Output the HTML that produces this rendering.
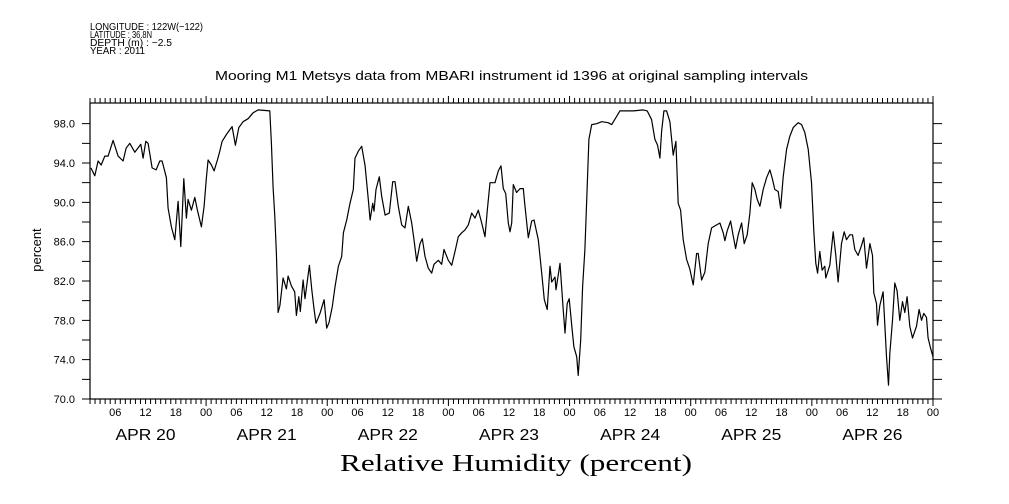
<!DOCTYPE html>
<html><head><meta charset="utf-8"><style>
html,body{margin:0;padding:0;background:#fff;}
svg{display:block;font-family:"Liberation Sans",sans-serif;}
</style></head><body>
<svg id="chart" width="1009" height="504" viewBox="0 0 1009 504">
<g font-size="10" fill="#000">
<text x="90" y="30" textLength="113" lengthAdjust="spacingAndGlyphs">LONGITUDE : 122W(−122)</text>
<text x="90" y="38" textLength="62" lengthAdjust="spacingAndGlyphs">LATITUDE : 36.8N</text>
<text x="90" y="46" textLength="82" lengthAdjust="spacingAndGlyphs">DEPTH (m) : −2.5</text>
<text x="90" y="54" textLength="55" lengthAdjust="spacingAndGlyphs">YEAR : 2011</text>
</g>
<text x="215" y="80" textLength="593" lengthAdjust="spacingAndGlyphs" font-size="13">Mooring M1 Metsys data from MBARI instrument id 1396 at original sampling intervals</text>
<text x="340" y="471" textLength="352" lengthAdjust="spacingAndGlyphs" font-size="24" font-family="Liberation Serif, serif">Relative Humidity (percent)</text>
<text transform="translate(41,250) rotate(-90)" text-anchor="middle" font-size="13">percent</text>
<g id="axes"></g>
<g id="series"></g>
</svg>
<script>
const hours = [1.17,1.96,2.61,3.21,3.94,4.59,5.58,6.57,7.56,8.16,8.89,9.88,11.07,11.52,12.06,12.51,13.31,14.1,14.83,15.29,16.14,16.48,17.13,17.8,18.46,18.99,19.58,20.1,20.44,21.09,21.76,22.28,23.07,23.6,24.06,24.4,25.05,25.58,26.24,26.71,27.17,28.02,29.15,29.8,30.48,31.33,32.32,33.31,34.3,36.61,36.93,37.27,37.6,37.92,38.26,38.61,39.25,39.9,40.24,40.89,41.56,41.88,42.36,42.67,43.21,43.6,44.46,44.93,45.39,45.78,46.57,47.37,47.9,48.36,49.01,49.54,50.2,50.87,51.19,51.86,52.51,53.17,53.5,54.16,54.83,55.49,56.14,56.48,57.01,57.27,57.66,58.32,58.79,59.45,60.3,60.97,61.43,62.08,62.75,63.41,64.06,64.73,65.19,65.72,66.38,66.83,67.37,68.02,68.69,69.15,70,70.67,71.13,71.98,72.65,73.3,73.96,74.63,75.29,75.94,76.61,77.27,77.92,78.59,79.25,79.7,80.24,81.23,81.88,82.42,82.87,83.35,83.86,84.2,84.53,84.85,85.52,86.18,86.83,87.17,87.82,88.5,88.95,89.8,90.48,90.99,91.58,92.12,92.46,93.11,93.31,94.1,94.75,95.09,95.54,95.94,96.42,96.87,97.41,97.72,98.2,98.59,99.05,99.5,99.84,100.38,101.37,102.36,103.66,104.34,105.98,108.61,110.59,111.39,112.26,112.91,113.44,113.9,114.24,114.69,115.23,115.88,116.53,117.07,117.52,118,118.51,119.19,119.84,120.5,121.17,121.49,122.16,122.81,123.47,124.14,124.79,125.78,126.44,126.77,127.23,127.9,128.42,128.89,129.41,130.08,130.59,131.19,131.72,132.18,132.71,133.17,133.7,134.36,135.03,135.68,136.22,136.67,137.33,137.8,138.32,138.99,139.64,140.3,141.29,141.96,142.61,143.27,143.94,144.4,144.79,145.13,145.58,146.04,146.57,146.77,147.56,148.22,148.75,149.21,149.88,150.4,150.87,151.52,152.06,152.51,153.17,153.84,154.3,154.83,155.49,156.02,156.28,156.81,157.01,157.47,158.12,158.79,159.19,159.45,159.98,160.44,160.89,161.43,161.96,162.42,162.87,163.41,163.94,164.73,165.25,165.72,166.18,166.71,167.03,167.5,168];
const humidity = [93.5,92.7,94.2,93.8,94.7,94.7,96.3,94.7,94.2,95.5,96,95.1,95.9,94.5,96.2,96,93.5,93.3,94.2,94.2,92.5,89.4,87.5,86.2,90.1,85.5,92.4,88.4,90.3,89.2,90.5,89.2,87.5,89.6,92.5,94.3,93.8,93.2,94.3,95.2,96.2,96.9,97.7,95.8,97.6,98.2,98.5,99.1,99.4,99.3,96,91.5,88.6,84.8,78.8,79.5,82.3,81.2,82.5,81.5,80.9,78.5,80.4,78.9,82.1,80.2,83.6,81.1,79.1,77.7,78.7,80.1,77.2,77.8,79.4,81.4,83.5,84.5,86.9,88.2,89.9,91.3,94.5,95.2,95.7,93.7,90.3,88.2,89.9,89.1,91.3,92.6,90.6,88.7,88.9,92.1,92.1,89.6,87.7,87.4,89.6,87.9,86.2,84,85.8,86.3,84.5,83.3,82.8,83.7,84.1,83.7,85.2,84.1,83.6,85,86.5,86.9,87.2,87.7,88.9,88.4,89.2,87.9,86.5,89.2,92,92,93.2,93.7,91.4,90.9,87.9,87,87.9,91.8,91,91.4,91.4,89.6,86.4,88.1,88.2,86.2,82.8,80.1,79.1,83.5,81.9,82.4,81.1,83.8,79.1,76.7,79.7,80.2,77.5,75.3,74.3,72.4,76,81.4,85.2,91.6,96.4,97.9,98,98.2,98.1,97.9,99.3,99.3,99.4,99.3,98.4,96.4,95.8,94.5,97.2,99.3,99.3,98.2,94.8,96.2,89.9,89.2,86.2,84.2,83.2,81.6,84.8,84.8,82.1,82.9,85.8,87.4,87.6,87.9,86.9,86.1,87.1,88.1,86.6,85.3,86.7,87.9,85.8,86.7,88.9,92,91.3,90.3,89.6,91.3,92.5,93.3,92.3,91.3,91.1,89.4,92.6,95.4,96.7,97.6,98.1,97.9,97.1,95.4,92,86.9,83.8,82.8,85,83.1,83.5,82.3,83.6,87,84.6,81.9,85.8,87,86.2,86.7,86.7,85.2,84.6,85.6,86.4,83.3,85.8,84.6,80.8,79.7,77.5,79.5,80.9,74.3,71.4,74.6,78,81.8,81,78,79.9,78.8,80.4,77.4,76.2,77.4,79.1,78,78.7,78.3,76.2,75.2,74.3];
const yTickValues = [70,74,78,82,86,90,94,98];
const yTickLabels = ["70.0","74.0","78.0","82.0","86.0","90.0","94.0","98.0"];
const hourLabels = ["06","12","18","00"];
const dayLabels = ["APR 20","APR 21","APR 22","APR 23","APR 24","APR 25","APR 26"];

const X0=90,X1=933,Y0=399,Y1=103,H0=1,H1=168,V0=70,V1=100.1;
const xs=h=>X0+(h-H0)*(X1-X0)/(H1-H0);
const ys=v=>Y0-(v-V0)*(Y0-Y1)/(V1-V0);
const NS="http://www.w3.org/2000/svg";
const axes=document.getElementById('axes');
function mk(tag,attrs,parent){const e=document.createElementNS(NS,tag);for(const k in attrs)e.setAttribute(k,attrs[k]);parent.appendChild(e);return e;}

const frame=mk('rect',{x:X0,y:Y1,width:X1-X0,height:Y0-Y1,fill:'none',stroke:'#000','stroke-width':1.2},axes);



let d='';
for(let h=H0;h<=H1;h++){
  const x=xs(h); const major=(h%24===0); const len=major?7:5;
  d+=`M${x},${Y0}v${len}M${x},${Y1}v${-len}`;
}
for(let v=72;v<=98;v+=2){const y=ys(v);d+=`M${X0},${y}h-8M${X1},${y}h9`;}
d+=`M${X0},${Y0}h-8M${X1},${Y0}h9`;
const ticks=mk('path',{d:d,stroke:'#000','stroke-width':1,fill:'none'},axes);



yTickValues.forEach((v,i)=>{
  const t=mk('text',{x:75,y:ys(v)+4,'text-anchor':'end','font-size':11},axes);
  t.textContent=yTickLabels[i];
  
  
});
for(let h=6;h<=H1;h+=6){
  const t=mk('text',{x:xs(h),y:416,'text-anchor':'middle','font-size':11},axes);
  t.textContent=hourLabels[(h/6-1)%4];
  
  
}
dayLabels.forEach((lab,i)=>{
  const t=mk('text',{x:xs(i*24+12)-30,y:440,'font-size':16,textLength:60,lengthAdjust:'spacingAndGlyphs'},axes);
  t.textContent=lab;
  
  
});

const pts=hours.map((h,i)=>`${xs(h).toFixed(1)},${ys(humidity[i]).toFixed(1)}`).join(' ');
const line=mk('polyline',{points:pts,fill:'none',stroke:'#000','stroke-width':1.2,'stroke-linejoin':'round'},document.getElementById('series'));


</script>
</body></html>
